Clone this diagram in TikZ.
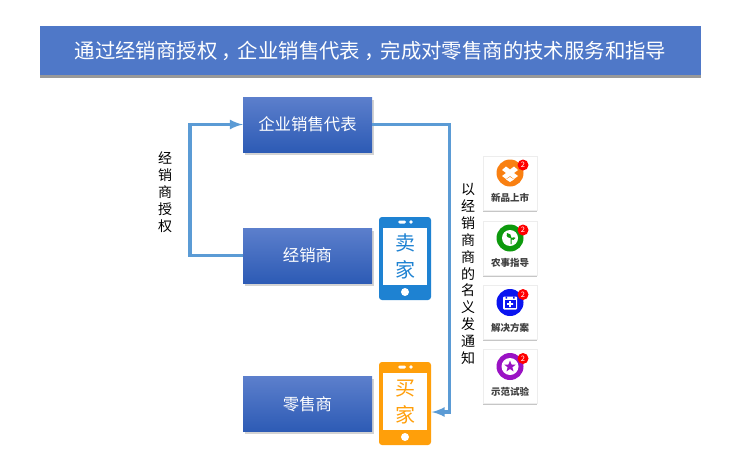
\documentclass[tikz,border=0pt]{standalone}
\usepackage{fontspec}
\setmainfont{Noto Sans CJK SC}
\usetikzlibrary{calc,shadows,shapes.geometric}
\definecolor{titleblue}{HTML}{4F78C8}
\definecolor{boxtop}{HTML}{5C7FCC}
\definecolor{boxbot}{HTML}{2D5BB5}
\definecolor{wireblue}{HTML}{5B9BD5}
\definecolor{phoneblue}{HTML}{1E82D2}
\definecolor{phoneorange}{HTML}{FF9F0A}
\definecolor{iconorange}{HTML}{F98012}
\definecolor{icongreen}{HTML}{0E9A0E}
\definecolor{iconblue}{HTML}{0A14F0}
\definecolor{iconpurple}{HTML}{9A12C4}
\tikzset{
  rolebox/.style={minimum width=129,minimum height=55,inner sep=0,top color=boxtop,bottom color=boxbot,text=white,font=\fontsize{16.4}{18}\selectfont,drop shadow={shadow xshift=1.5pt,shadow yshift=-2.5pt,opacity=0.35}},
  wire/.style={draw=wireblue,line width=3.4,-latex},
  vlabel/.style={align=center,inner sep=0,font=\fontsize{14}{16.9}\selectfont},
  phone/.style={minimum width=52,minimum height=83,inner sep=0,rounded corners=3,fill=#1},
  screen/.style={minimum width=44,minimum height=57,inner sep=0,fill=white,align=center,font=\fontsize{20}{27}\selectfont,text=#1},
  card/.style={minimum width=54,minimum height=54,inner sep=0,fill=white,draw=black!7,line width=0.8,drop shadow={shadow xshift=0pt,shadow yshift=-1.5pt,opacity=0.45}},
  cardtext/.style={inner sep=0,text=black!75,font=\fontsize{9.5}{11}\selectfont\bfseries},
  badge/.style={circle,fill=red,text=white,minimum size=11,inner sep=0,font=\fontsize{7.5}{8}\selectfont}
}
\begin{document}
\begin{tikzpicture}[x=1pt,y=-1pt]
  \useasboundingbox (0,0) rectangle (741,463);
  % 1. Title bar
  \fill[gray!80] (40,28) rectangle (701,78);
  \node (title) at (370.5,50.5) [minimum width=661,minimum height=49,inner sep=0,fill=titleblue,text=white,font=\fontsize{20.4}{24}\selectfont] {通过经销商授权\kern.2em，\kern-.2em 企业销售代表\kern.2em，\kern-.2em 完成对零售商的技术服务和指导};

  % 2. Three role boxes
  \node (rep) at (307.5,124.5) [rolebox] {企业销售代表};
  \node (dealer) at (307.5,255.5) [rolebox] {经销商};
  \node (retail) at (307.5,404) [rolebox] {零售商};

  % 3. Phones
  \foreach \name/\col/\ypos/\word in {seller/phoneblue/258.5/卖,buyer/phoneorange/403.5/买}{
    \node (\name) at (405,\ypos) [phone=\col] {};
    \node (\name screen) at ($(\name)+(0,-2)$) [screen=\col] {\word\\家};
    \fill[white,rounded corners=1.5] ($(\name)+(-7,-38)$) rectangle ($(\name)+(1,-35)$);
    \fill[white] ($(\name)+(6,-36.5)$) circle (1.8);
    \fill[white] ($(\name)+(0,33.5)$) circle (4);
  }

  % 4. Connectors
  \draw[wire] (dealer.west) -- ++(-53,0) |- (rep.west);
  \draw[wire] (rep.east) -- ++(77,0) |- ($(buyer.east)+(0.5,8.5)$);

  % 5. Vertical labels
  \node (authlabel) at (165,192) [vlabel] {经\\销\\商\\授\\权};
  \node (noticelabel) at (468,274) [vlabel] {以\\经\\销\\商\\商\\的\\名\\义\\发\\通\\知};

  % 6. Cards on the right
  \foreach \name/\ypos/\col/\word in {new/183/iconorange/新品上市,farm/248/icongreen/农事指导,plan/312.5/iconblue/解决方案,demo/376.5/iconpurple/示范试验}{
    \node (\name) at (510,\ypos) [card] {};
    \node (\name disc) at ($(\name)+(0,-10)$) [circle,fill=\col,minimum size=27,inner sep=0] {};
    \node (\name badge) at ($(\name disc)+(13,-8)$) [badge] {2};
    \node (\name text) at ($(\name)+(0,15)$) [cardtext] {\word};
  }

  % 7. Icon glyphs
  \fill[white] ($(newdisc)+(-8,-3)$) -- ++(4,-3.5) -- ++(4,3) -- ++(4,-3) -- ++(4,3.5) -- ++(-4,3) -- ++(4,3) -- ++(-4,3) -- ++(-4,-3) -- ++(-4,3) -- ++(-4,-3) -- ++(4,-3) -- cycle;
  \fill[white] ($(newdisc)+(-4,6.5)$) -- ++(4,-2.5) -- ++(4,2.5) -- ++(-4,2.5) -- cycle;
  \fill[white] (farmdisc) circle (8);
  \fill[icongreen] ($(farmdisc)+(0.5,6)$) -- ($(farmdisc)+(0.5,0)$) .. controls ($(farmdisc)+(-4,0)$) and ($(farmdisc)+(-4,-4)$) .. ($(farmdisc)+(-3,-5)$) .. controls ($(farmdisc)+(0,-5)$) and ($(farmdisc)+(1.5,-3)$) .. ($(farmdisc)+(1.5,0)$) .. controls ($(farmdisc)+(3,-1)$) and ($(farmdisc)+(5,-1)$) .. ($(farmdisc)+(5.5,0)$) .. controls ($(farmdisc)+(4,2)$) and ($(farmdisc)+(3,2.5)$) .. ($(farmdisc)+(1.5,1.5)$) -- ($(farmdisc)+(1.5,6)$) -- cycle;
  \fill[white,rounded corners=1] ($(plandisc)+(-7,-6)$) rectangle ($(plandisc)+(7,7)$);
  \fill[iconblue] ($(plandisc)+(-5.5,-2.5)$) rectangle ($(plandisc)+(5.5,5.5)$);
  \fill[iconblue] ($(plandisc)+(-4.5,-6)$) rectangle ($(plandisc)+(-3,-4)$) ($(plandisc)+(3,-6)$) rectangle ($(plandisc)+(4.5,-4)$);
  \fill[white] ($(plandisc)+(-3,0.7)$) rectangle ($(plandisc)+(3,2.3)$) ($(plandisc)+(-0.8,-1.5)$) rectangle ($(plandisc)+(0.8,4.5)$);
  \fill[white] (demodisc) circle (8.5);
  \node (demostar) at (demodisc) [star,star points=5,star point ratio=2.4,fill=iconpurple,minimum size=12,inner sep=0] {};
\end{tikzpicture}
\end{document}
